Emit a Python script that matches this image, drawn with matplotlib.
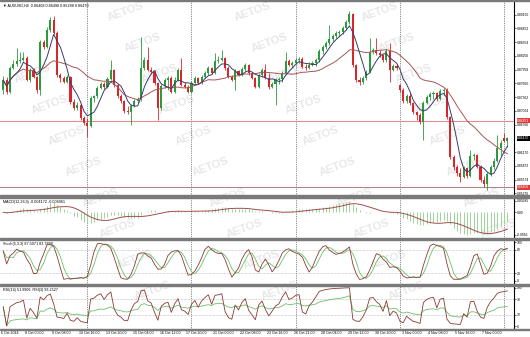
import numpy as np
import pandas as pd
import matplotlib
matplotlib.use('Agg')
import matplotlib.pyplot as plt
import matplotlib.transforms as mtransforms
from matplotlib.patches import Rectangle

plt.rcParams['font.family'] = ['Liberation Sans', 'DejaVu Sans']

# AUDUSD H4, bars from 6 Oct 2014 20:00 to 10 Nov 2014 00:00
closes = [0.8773, 0.8747, 0.8799, 0.8808, 0.8815, 0.8817, 0.8821, 0.8773, 0.8795, 0.8780,
          0.8752, 0.8856, 0.8845, 0.8882, 0.8904, 0.8875, 0.8784, 0.8778, 0.8769, 0.8780,
          0.8726, 0.8713, 0.8719, 0.8691, 0.8680, 0.8674, 0.8734, 0.8739, 0.8756, 0.8765,
          0.8758, 0.8776, 0.8795, 0.8763, 0.8739, 0.8728, 0.8706, 0.8704, 0.8717, 0.8728,
          0.8732, 0.8799, 0.8817, 0.8795, 0.8791, 0.8767, 0.8713, 0.8760, 0.8773, 0.8778,
          0.8747, 0.8773, 0.8795, 0.8763, 0.8758, 0.8747, 0.8767, 0.8778, 0.8767, 0.8780,
          0.8789, 0.8799, 0.8789, 0.8815, 0.8817, 0.8821, 0.8799, 0.8780, 0.8773, 0.8793,
          0.8784, 0.8797, 0.8806, 0.8789, 0.8778, 0.8758, 0.8784, 0.8795, 0.8778, 0.8758,
          0.8765, 0.8773, 0.8776, 0.8789, 0.8815, 0.8806, 0.8810, 0.8817, 0.8819, 0.8802,
          0.8799, 0.8806, 0.8810, 0.8817, 0.8836, 0.8845, 0.8854, 0.8862, 0.8869, 0.8875,
          0.8878, 0.8886, 0.8899, 0.8917, 0.8806, 0.8773, 0.8769, 0.8778, 0.8791, 0.8834,
          0.8839, 0.8832, 0.8828, 0.8817, 0.8836, 0.8795, 0.8804, 0.8799, 0.8752, 0.8728,
          0.8739, 0.8724, 0.8704, 0.8697, 0.8682, 0.8724, 0.8737, 0.8743, 0.8745, 0.8732,
          0.8750, 0.8752, 0.8693, 0.8606, 0.8585, 0.8572, 0.8563, 0.8582, 0.8565, 0.8609,
          0.8611, 0.8585, 0.8556, 0.8548, 0.8569, 0.8585, 0.8598, 0.8626, 0.8637, 0.86408,
          0.86470]
highs = [0.8782, 0.8780, 0.8804, 0.8817, 0.8843, 0.8834, 0.8834, 0.8826, 0.8799, 0.8799,
         0.8782, 0.8860, 0.8860, 0.8888, 0.8910, 0.8912, 0.8880, 0.8789, 0.8782, 0.8784,
         0.8782, 0.8732, 0.8726, 0.8721, 0.8695, 0.8691, 0.8739, 0.8741, 0.8760, 0.8769,
         0.8769, 0.8780, 0.8817, 0.8797, 0.8765, 0.8743, 0.8730, 0.8717, 0.8721, 0.8732,
         0.8737, 0.8867, 0.8823, 0.8845, 0.8802, 0.8795, 0.8769, 0.8765, 0.8778, 0.8782,
         0.8782, 0.8780, 0.8799, 0.8821, 0.8769, 0.8763, 0.8771, 0.8782, 0.8780, 0.8784,
         0.8793, 0.8804, 0.8802, 0.8832, 0.8826, 0.8839, 0.8823, 0.8804, 0.8784, 0.8797,
         0.8795, 0.8802, 0.8810, 0.8808, 0.8791, 0.8780, 0.8789, 0.8799, 0.8808, 0.8789,
         0.8769, 0.8778, 0.8780, 0.8793, 0.8834, 0.8819, 0.8815, 0.8821, 0.8823, 0.8823,
         0.8808, 0.8812, 0.8815, 0.8821, 0.8841, 0.8849, 0.8858, 0.8893, 0.8873, 0.8880,
         0.8882, 0.8891, 0.8904, 0.8923, 0.8919, 0.8808, 0.8780, 0.8782, 0.8795, 0.8865,
         0.8843, 0.8865, 0.8839, 0.8830, 0.8841, 0.8854, 0.8808, 0.8808, 0.8765, 0.8756,
         0.8743, 0.8745, 0.8726, 0.8706, 0.8702, 0.8728, 0.8741, 0.8747, 0.8750, 0.8747,
         0.8754, 0.8756, 0.8756, 0.8695, 0.8611, 0.8589, 0.8582, 0.8587, 0.8585, 0.8622,
         0.8615, 0.8613, 0.8589, 0.8565, 0.8574, 0.8589, 0.8604, 0.8654, 0.8643, 0.8658,
         0.86498]
lows = [0.8743, 0.8743, 0.8745, 0.8797, 0.8804, 0.8810, 0.8815, 0.8771, 0.8769, 0.8778,
        0.8745, 0.8741, 0.8841, 0.8843, 0.8878, 0.8873, 0.8780, 0.8769, 0.8767, 0.8767,
        0.8721, 0.8708, 0.8708, 0.8687, 0.8676, 0.8650, 0.8671, 0.8726, 0.8734, 0.8754,
        0.8754, 0.8756, 0.8773, 0.8758, 0.8734, 0.8724, 0.8702, 0.8700, 0.8676, 0.8715,
        0.8724, 0.8728, 0.8795, 0.8793, 0.8786, 0.8763, 0.8687, 0.8708, 0.8756, 0.8752,
        0.8745, 0.8745, 0.8771, 0.8760, 0.8756, 0.8745, 0.8745, 0.8765, 0.8765, 0.8765,
        0.8778, 0.8784, 0.8786, 0.8786, 0.8810, 0.8815, 0.8795, 0.8778, 0.8771, 0.8752,
        0.8782, 0.8782, 0.8793, 0.8784, 0.8776, 0.8756, 0.8756, 0.8780, 0.8776, 0.8754,
        0.8756, 0.8719, 0.8765, 0.8769, 0.8786, 0.8804, 0.8802, 0.8808, 0.8810, 0.8799,
        0.8795, 0.8797, 0.8804, 0.8804, 0.8812, 0.8830, 0.8841, 0.8849, 0.8858, 0.8865,
        0.8869, 0.8873, 0.8882, 0.8895, 0.8802, 0.8769, 0.8763, 0.8765, 0.8773, 0.8789,
        0.8830, 0.8828, 0.8823, 0.8812, 0.8812, 0.8769, 0.8793, 0.8795, 0.8747, 0.8724,
        0.8724, 0.8719, 0.8700, 0.8687, 0.8678, 0.8643, 0.8721, 0.8730, 0.8732, 0.8728,
        0.8730, 0.8741, 0.8689, 0.8602, 0.8578, 0.8565, 0.8552, 0.8561, 0.8561, 0.8563,
        0.8600, 0.8582, 0.8552, 0.8541, 0.8535, 0.8565, 0.8580, 0.8596, 0.8609, 0.8639,
        0.86288]
first_open = 0.8752
gap_opens = {118: 0.8763, 149: 0.8648}

date_bars = [7, 15, 23, 31, 39, 47, 55, 63, 71, 79, 87, 95, 103, 111, 119, 127, 135, 143]
date_labels = ['8 Oct 00:00', '9 Oct 08:00', '10 Oct 16:00', '13 Oct 20:00', '15 Oct 04:00',
               '16 Oct 12:00', '17 Oct 20:00', '21 Oct 00:00', '22 Oct 08:00', '23 Oct 16:00',
               '26 Oct 21:00', '28 Oct 04:00', '29 Oct 12:00', '30 Oct 20:00', '3 Nov 00:00',
               '4 Nov 08:00', '5 Nov 16:00', '7 Nov 00:00']
week_starts = [25, 56, 87, 118, 149]

price_ticks = [0.89150, 0.88852, 0.88554, 0.88256, 0.87958, 0.87660, 0.87362, 0.87064,
               0.86766, 0.86170, 0.85872, 0.85574, 0.85276]
red_levels = [0.86851, 0.85406]
last_price = 0.86470

# ---- build OHLC + indicators ----
opens = [first_open] + closes[:-1]
for k, v in gap_opens.items():
    opens[k] = v
df = pd.DataFrame({'o': opens, 'h': highs, 'l': lows, 'c': closes})
n = len(df)
x = np.arange(n)

ma_fast = df['c'].rolling(5, min_periods=1).mean()
ma_slow = df['c'].rolling(21, min_periods=1).mean()

macd = df['c'].ewm(span=12, adjust=False).mean() - df['c'].ewm(span=26, adjust=False).mean()
macd_sig = macd.rolling(9, min_periods=1).mean()

ll = df['l'].rolling(5, min_periods=1).min()
hh = df['h'].rolling(5, min_periods=1).max()
stoch_k = 100 * (df['c'] - ll).rolling(3, min_periods=1).sum() / (hh - ll).rolling(3, min_periods=1).sum()
stoch_d = stoch_k.rolling(3, min_periods=1).mean()


def rsi(s, p):
    d = s.diff()
    up = d.clip(lower=0).ewm(alpha=1 / p, adjust=False).mean()
    dn = (-d.clip(upper=0)).ewm(alpha=1 / p, adjust=False).mean()
    r = 100 - 100 / (1 + up / dn.replace(0, np.nan))
    return r.fillna(50)


rsi_slow = rsi(df['c'], 14)
rsi_fast = rsi(df['c'], 3)

# ---- layout (pixel geometry of a 530x337 MT4 screenshot) ----
W, H = 530, 337
plot_right = 514
bar0_px, bar_px = 3.27, 3.361
xlim = (-bar0_px / bar_px, (plot_right - bar0_px) / bar_px)


def rect(top, bottom):
    return [0, 1 - bottom / H, plot_right / W, (bottom - top) / H]


fig = plt.figure(figsize=(W / 100, H / 100), dpi=100)
fig.patch.set_facecolor('white')
ax = fig.add_axes(rect(1, 195))
ax_macd = fig.add_axes(rect(198, 238))
ax_st = fig.add_axes(rect(240, 284))
ax_rsi = fig.add_axes(rect(286, 329))
axes = [ax, ax_macd, ax_st, ax_rsi]

fs = 2.4
for a in axes:
    a.patch.set_alpha(0)
    a.set_xlim(*xlim)
    a.yaxis.tick_right()
    a.tick_params(axis='y', labelsize=fs, length=1.5, width=0.4, pad=0.8, colors='black')
    a.tick_params(axis='x', length=0, labelbottom=False)
    for s in ['left', 'top', 'bottom']:
        a.spines[s].set_visible(False)
    a.spines['right'].set_linewidth(0.8)
    for w in week_starts:
        a.axvline(w, color='#222222', lw=0.5, ls=(0, (1, 1.6)), zorder=1)

# separator bands between windows
for top, bot in [(0, 1), (195, 198), (238, 240), (284, 286), (329, 330)]:
    fig.patches.append(Rectangle((0, 1 - bot / H), 1, (bot - top) / H,
                                 transform=fig.transFigure, color='#7a7a7a', zorder=5))

# watermark
for r in range(12):
    wy = 12 + 31 * r
    x0 = (0.55 * wy - 8) % 127
    for k in range(-1, 5):
        wx = x0 + 127 * k
        if 26 <= wx <= 502 and 11 <= wy <= 320:
            fig.text(wx / W, 1 - wy / H, 'AETOS', rotation=20, fontsize=8, fontweight='bold',
                     color='#e8e8e8', ha='center', va='center', zorder=-1)

# ---- main price window ----
bull, bear = '#2b9a3c', '#d9262b'
col = np.where(df['c'] >= df['o'], bull, bear)
ax.vlines(x, df['l'], df['h'], colors=col, lw=0.6, zorder=3)
body = np.maximum((df['c'] - df['o']).abs(), 0.00004)
ax.bar(x, body, bottom=np.minimum(df['o'], df['c']), width=0.62, color=col, linewidth=0, zorder=3)
ax.plot(x, ma_slow, color='#a85656', lw=0.7, zorder=4)
ax.plot(x, ma_fast, color='#3a3a70', lw=0.7, zorder=4)
ax.axhline(red_levels[0], color='#e58c8c', lw=0.8, zorder=2)
ax.axhline(red_levels[1], color='#b08585', lw=0.8, zorder=2)
ax.set_ylim(0.8947 - 0.000217 * 195, 0.8947 - 0.000217 * 1)
ax.set_yticks(price_ticks)
ax.set_yticklabels([f'{v:.5f}' for v in price_ticks])

btr = mtransforms.blended_transform_factory(ax.transAxes, ax.transData)
for v, fc in [(red_levels[0], '#e23b3b'), (red_levels[1], '#e23b3b'), (last_price, 'black')]:
    ax.text(1.006, v, f'{v:.5f}', transform=btr, fontsize=fs, color='white', va='center',
            ha='left', clip_on=False, zorder=6,
            bbox=dict(boxstyle='square,pad=0.15', fc=fc, ec='none'))
ax.text(0.006, 0.985, '\u25bc AUDUSD,H4  0.86408 0.86498 0.86288 0.86470', transform=ax.transAxes,
        fontsize=2.7, va='top', ha='left')

# ---- MACD ----
ax_macd.vlines(x, 0, macd, colors='#9fd39a', lw=0.7, zorder=3)
ax_macd.plot(x, macd_sig, color='#a0504c', lw=0.7, zorder=4)
mx = max(macd.max(), macd_sig.max())
mn = min(macd.min(), macd_sig.min())
span = mx - mn
ax_macd.set_ylim(mn - span * 3.3 / 35.7, mx + span * 3.0 / 35.7)
ax_macd.set_yticks([mx, 0, mn])
ax_macd.set_yticklabels([f'{mx:.5f}', '0.00', f'{mn:.4f}'])
ax_macd.text(0.006, 0.96, 'MACD(12,26,9) -0.004172 -0.004961', transform=ax_macd.transAxes,
             fontsize=2.7, va='top', ha='left')

# ---- Stochastic ----
ax_st.plot(x, stoch_d, color='#6cbf6c', lw=0.6, zorder=3)
ax_st.plot(x, stoch_k, color='#8a3b35', lw=0.6, zorder=4)
for lv in [20, 80]:
    ax_st.axhline(lv, color='#8a8a8a', lw=0.4, ls=(0, (1, 1.5)))
ax_st.set_ylim(-8.6, 106)
ax_st.set_yticks([0, 20, 80, 100])
ax_st.text(0.006, 0.96, 'Stoch(5,3,3) 87.5071 83.7888', transform=ax_st.transAxes,
           fontsize=2.7, va='top', ha='left')

# ---- RSI ----
ax_rsi.plot(x, rsi_slow, color='#6cbf6c', lw=0.6, zorder=3)
ax_rsi.plot(x, rsi_fast, color='#8a3b35', lw=0.6, zorder=4)
for lv in [30, 70]:
    ax_rsi.axhline(lv, color='#8a8a8a', lw=0.4, ls=(0, (1, 1.5)))
ax_rsi.set_ylim(-7.8, 104.4)
ax_rsi.set_yticks([0, 30, 70, 100])
ax_rsi.text(0.006, 0.96, 'RSI(14) 51.9906  RSI(3) 93.2527', transform=ax_rsi.transAxes,
            fontsize=2.7, va='top', ha='left')

# time axis
xtr = mtransforms.blended_transform_factory(ax_rsi.transData, ax_rsi.transAxes)
ax_rsi.text(xlim[0] + 0.3, -0.1, '6 Oct 2014', transform=xtr, fontsize=2.6, va='center', ha='left')
for b, lab in zip(date_bars, date_labels):
    ax_rsi.text(b - 0.5, -0.1, lab, transform=xtr, fontsize=2.6, va='center', ha='left')

fig.savefig('out.png', dpi=100, facecolor='white')
